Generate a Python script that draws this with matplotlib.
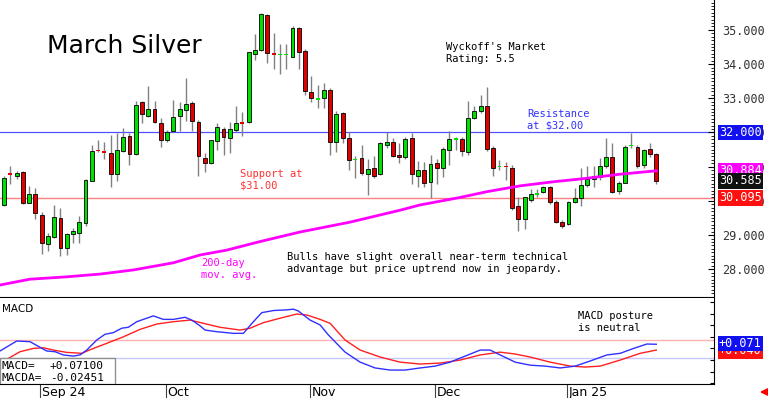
import numpy as np
import matplotlib.pyplot as plt
from matplotlib.ticker import MultipleLocator
from matplotlib.transforms import blended_transform_factory
from matplotlib.patches import Rectangle

# daily candles, March silver (one per trading day, late Aug 2024 -> mid Jan 2025)
opens = [29.88, 30.79, 30.74, 30.84, 29.95, 30.20, 29.59, 28.75, 28.94, 29.50,
         28.62, 29.04, 29.06, 29.36, 30.59, 31.48, 31.45, 31.40, 30.79, 31.47,
         31.90, 31.37, 32.88, 32.48, 32.68, 32.28, 31.78, 32.05, 32.49, 32.65,
         32.87, 32.32, 31.25, 31.10, 31.76, 32.09, 31.83, 32.07, 32.29, 32.30,
         34.29, 34.41, 35.43, 34.31, 34.26, 34.27, 34.22, 35.05, 34.39, 33.19,
         32.96, 33.02, 33.25, 31.71, 32.56, 31.83, 31.19, 31.24, 30.79, 30.95,
         30.79, 31.63, 31.71, 31.35, 31.29, 31.83, 30.74, 30.90, 30.54, 31.10,
         30.97, 31.49, 31.79, 31.80, 31.44, 32.43, 32.63, 32.77, 31.54, 30.99,
         31.01, 30.97, 29.86, 29.46, 30.03, 30.17, 30.27, 30.42, 29.96, 29.37,
         29.32, 29.98, 30.09, 30.46, 30.63, 30.71, 31.02, 31.29, 30.29, 30.53,
         31.60, 31.58, 31.05, 31.52, 31.37]
highs = [30.73, 31.02, 30.87, 30.86, 30.44, 30.38, 29.68, 29.06, 29.88, 29.79,
         29.06, 29.21, 29.57, 30.64, 31.63, 31.78, 31.72, 31.93, 31.99, 32.13,
         31.99, 32.92, 32.93, 33.37, 32.93, 32.43, 32.07, 32.95, 32.88, 33.60,
         32.92, 32.37, 31.39, 31.78, 32.27, 32.15, 32.32, 32.77, 32.61, 34.36,
         34.87, 35.49, 35.46, 34.90, 34.59, 34.59, 35.12, 35.09, 34.43, 33.66,
         33.39, 33.46, 33.29, 32.63, 32.59, 32.01, 31.32, 31.63, 31.22, 31.32,
         31.73, 32.01, 31.83, 31.68, 31.86, 31.98, 31.17, 31.15, 31.34, 31.22,
         31.58, 32.05, 31.88, 31.86, 32.93, 32.77, 33.10, 33.32, 31.61, 31.20,
         31.15, 31.05, 30.10, 30.12, 30.35, 30.35, 30.44, 30.44, 30.03, 29.44,
         30.01, 30.37, 30.95, 31.02, 31.02, 31.25, 31.83, 31.68, 30.58, 31.63,
         31.98, 31.62, 31.51, 31.68, 31.39]
lows = [29.85, 30.49, 30.64, 29.92, 29.94, 29.47, 28.45, 28.53, 28.92, 28.39,
        28.42, 28.77, 28.78, 29.27, 30.58, 31.43, 31.22, 30.41, 30.59, 31.44,
        31.05, 31.34, 32.29, 32.46, 32.27, 31.58, 31.73, 32.02, 32.05, 32.34,
        32.05, 30.74, 30.84, 31.08, 31.49, 31.34, 31.39, 32.02, 31.90, 32.29,
        34.12, 34.39, 34.04, 33.86, 33.70, 33.86, 34.20, 33.86, 33.10, 32.90,
        32.72, 32.71, 31.34, 31.42, 31.68, 30.90, 30.68, 30.76, 30.17, 30.66,
        30.76, 31.54, 31.27, 31.12, 31.22, 30.49, 30.41, 30.41, 30.09, 30.49,
        30.71, 31.05, 31.49, 31.31, 31.34, 32.39, 32.56, 31.47, 30.74, 30.90,
        30.61, 29.73, 29.13, 29.18, 29.98, 30.12, 30.22, 29.91, 29.34, 29.22,
        29.30, 29.93, 29.85, 30.41, 30.41, 30.61, 30.95, 30.24, 30.20, 30.51,
        31.54, 30.96, 30.95, 31.29, 30.49]
closes = [30.66, 30.77, 30.82, 29.95, 30.20, 29.65, 28.77, 28.98, 29.53, 28.63,
          29.03, 29.11, 29.38, 30.61, 31.46, 31.45, 31.41, 30.78, 31.49, 31.87,
          31.37, 32.80, 32.54, 32.68, 32.30, 31.78, 32.02, 32.46, 32.68, 32.83,
          32.34, 31.32, 31.12, 31.77, 32.15, 31.88, 32.09, 32.27, 32.26, 34.35,
          34.41, 35.46, 34.32, 34.28, 34.30, 34.29, 35.05, 34.35, 33.21, 33.00,
          32.98, 33.23, 31.73, 32.53, 31.83, 31.19, 31.21, 30.82, 30.93, 30.73,
          31.68, 31.71, 31.32, 31.27, 31.81, 30.78, 30.90, 30.53, 31.08, 30.95,
          31.51, 31.80, 31.81, 31.47, 32.41, 32.63, 32.77, 31.52, 30.97, 31.01,
          30.99, 29.78, 29.46, 30.10, 30.20, 30.22, 30.40, 29.96, 29.39, 29.27,
          29.98, 30.08, 30.46, 30.64, 30.73, 31.02, 31.29, 30.27, 30.53, 31.58,
          31.61, 31.02, 31.49, 31.37, 30.59]

# 200-day moving average (read at a few day positions)
ma_x = [-0.64, 4.1, 10.0, 15.3, 20.6, 27.0, 31.3, 35.5, 40.8, 47.2,
        55.2, 63.2, 66.3, 72.7, 77.0, 82.3, 87.6, 92.9, 98.2, 104]
ma_val = [27.54, 27.71, 27.78, 27.86, 27.98, 28.19, 28.42, 28.56, 28.81, 29.09,
          29.38, 29.73, 29.88, 30.10, 30.27, 30.44, 30.56, 30.66, 30.78, 30.88]

# MACD (blue) and its average (red)
macd_x = [-0.64, 2.03, 4.15, 5.74, 6.81, 8.13, 9.46, 11.05, 12.12, 13.19,
          14.78, 16.11, 17.43, 18.77, 19.82, 21.16, 22.22, 23.81, 25.41, 27.0,
          28.87, 29.94, 31.26, 32.06, 33.92, 36.57, 38.17, 39.76, 41.1, 42.95,
          45.09, 46.14, 46.94, 47.74, 48.8, 50.4, 51.72, 54.39, 56.78, 59.17,
          61.56, 63.96, 66.35, 68.74, 71.13, 73.52, 75.92, 77.51, 79.11, 81.5,
          83.89, 86.28, 88.68, 91.07, 93.46, 96.12, 98.25, 100.37, 102.5, 104]
macd_val = [0.039, 0.082, 0.079, 0.055, 0.039, 0.036, 0.022, 0.017, 0.022, 0.043,
            0.086, 0.111, 0.118, 0.137, 0.141, 0.165, 0.175, 0.190, 0.175, 0.175,
            0.184, 0.172, 0.147, 0.129, 0.122, 0.115, 0.115, 0.165, 0.204, 0.213,
            0.216, 0.219, 0.211, 0.194, 0.172, 0.151, 0.108, 0.034, -0.009, -0.034,
            -0.043, -0.043, -0.034, -0.026, -0.009, 0.017, 0.043, 0.043, 0.022, -0.009,
            -0.022, -0.026, -0.034, -0.026, -0.004, 0.022, 0.029, 0.050, 0.069, 0.068]
sig_x = [-0.64, 0.69, 2.55, 4.67, 6.27, 7.86, 10.0, 12.39, 14.24, 16.38,
         19.03, 21.69, 24.35, 27.0, 29.67, 31.79, 34.45, 37.64, 39.23, 41.36,
         44.02, 46.68, 48.28, 50.4, 51.99, 54.39, 56.78, 59.97, 63.16, 66.35,
         69.54, 72.73, 75.92, 79.11, 81.5, 83.89, 87.08, 90.27, 92.66, 95.06,
         98.25, 101.44, 104]
sig_val = [-0.009, 0.007, 0.036, 0.050, 0.053, 0.043, 0.033, 0.029, 0.050, 0.072,
           0.100, 0.132, 0.155, 0.165, 0.172, 0.158, 0.141, 0.129, 0.137, 0.161,
           0.180, 0.198, 0.194, 0.175, 0.158, 0.086, 0.043, 0.013, -0.009, -0.017,
           -0.013, 0.000, 0.022, 0.034, 0.026, 0.013, -0.009, -0.026, -0.030, -0.026,
           0.000, 0.029, 0.043]

month_start = [6, 26, 49, 69, 90]
month_lbl = ['Sep 24', 'Oct', 'Nov', 'Dec', 'Jan 25']
price_ticks = [28, 29, 30, 31, 32, 33, 34, 35]

resistance = 32.0
support = 30.095
ma_last = 30.884
last_close = 30.585
macd_last = 0.071
sig_last = 0.040

GREEN = '#00e000'
RED = '#e00000'
MONO = 'DejaVu Sans Mono'

W, H = 768, 398
fig = plt.figure(figsize=(W / 100, H / 100), dpi=100)
ax = fig.add_axes([0, 1 - 297 / H, 714 / W, 297 / H])
ax2 = fig.add_axes([0, 1 - 384 / H, 714 / W, 86 / H])

x = np.arange(len(opens))
o = np.array(opens)
c = np.array(closes)

# ---- price panel ----
ax.vlines(x, lows, highs, color='#808080', lw=1, zorder=2)
body_lo = np.minimum(o, c)
body_h = np.maximum(np.abs(c - o), 0.035)
cols = [GREEN if cc >= oo else RED for oo, cc in zip(o, c)]
edge_w = [0.0 if abs(cc - oo) < 0.05 else 0.6 for oo, cc in zip(o, c)]
ax.bar(x, body_h, bottom=body_lo, width=0.62, color=cols,
       edgecolor='black', linewidth=edge_w, zorder=3)

ax.axhline(resistance, color='#5050ff', lw=0.9, zorder=1)
ax.axhline(support, color='#ff8080', lw=1.0, zorder=1)
ax.plot(ma_x, ma_val, color='#ff00ff', lw=2, zorder=4)

ax.set_xlim(-0.64, 113.2)
ax.set_ylim(27.19, 35.874)
ax.set_xticks([])
ax.yaxis.tick_right()
ax.set_yticks(price_ticks)
ax.set_yticklabels([f'{p:.3f}' for p in price_ticks], family=MONO,
                   fontsize=8.5, color='#333333')
ax.yaxis.set_minor_locator(MultipleLocator(0.1))
ax.tick_params(axis='y', which='major', direction='in', length=4, pad=6)
ax.tick_params(axis='y', which='minor', direction='in', length=2)
for s in ['left', 'top']:
    ax.spines[s].set_visible(False)

# coloured value boxes on the right axis
tr = blended_transform_factory(ax.transAxes, ax.transData)
for val, bg in [(resistance, '#1010f0'), (ma_last, '#ff00ff'),
                (last_close, '#101010'), (support, '#ff1010')]:
    ax.text(1.007, val, f'{val:.3f}', transform=tr, va='center', ha='left',
            family=MONO, fontsize=8.5, color='white', zorder=10, clip_on=False,
            bbox=dict(boxstyle='square,pad=0.12', fc=bg, ec='none'))

# text notes
def put(px, py, s, **kw):
    fig.text(px / W, 1 - py / H, s, **kw)

put(47, 53, 'March Silver', fontsize=18, va='baseline', color='black')
put(446, 42, "Wyckoff's Market\nRating: 5.5", family=MONO, fontsize=7.5, va='top')
put(527, 109, 'Resistance\nat $32.00', family=MONO, fontsize=7.5, va='top',
    color='#3030ff')
put(240, 169, 'Support at\n$31.00', family=MONO, fontsize=7.5, va='top',
    color='#ff3030')
put(201, 258, '200-day\nmov. avg.', family=MONO, fontsize=7.5, va='top',
    color='#ff00ff')
put(287, 252, 'Bulls have slight overall near-term technical\n'
    'advantage but price uptrend now in jeopardy.', family=MONO,
    fontsize=7.5, va='top')

# ---- MACD panel ----
ax2.axhline(0.086, color='#ffb0b0', lw=1, zorder=1)
ax2.axhline(0.011, color='#c8c8ff', lw=1, zorder=1)
ax2.plot(sig_x, sig_val, color='#ff2020', lw=1, zorder=3)
ax2.plot(macd_x, macd_val, color='#3030ff', lw=1, zorder=3)
ax2.set_xlim(-0.64, 113.2)
ax2.set_ylim(-0.103, 0.267)
ax2.yaxis.tick_right()
ax2.set_yticks(np.arange(-0.1, 0.27, 0.05))
ax2.set_yticklabels([])
ax2.tick_params(axis='y', direction='in', length=3)
for s in ['left', 'top']:
    ax2.spines[s].set_visible(False)

tr2 = blended_transform_factory(ax2.transAxes, ax2.transData)
for val, bg in [(sig_last, '#ff1010'), (macd_last, '#1010f0')]:
    ax2.text(1.007, val, f'{val:+.3f}', transform=tr2, va='center', ha='left',
             family=MONO, fontsize=8.5, color='white', zorder=10, clip_on=False,
             bbox=dict(boxstyle='square,pad=0.12', fc=bg, ec='none'))

ax2.text(0.003, 0.93, 'MACD', transform=ax2.transAxes, fontsize=7.5, va='top')
put(578, 311, 'MACD posture\nis neutral', family=MONO, fontsize=7.5, va='top')

# value box bottom-left
ax2.add_patch(Rectangle((0, 0), 115 / 714, 26 / 86, transform=ax2.transAxes,
                        fc='white', ec='#909090', lw=1, zorder=5))
ax2.text(0.002, 0.21, 'MACD=', transform=ax2.transAxes, family=MONO,
         fontsize=8, va='center', zorder=6)
ax2.text(0.002, 0.07, 'MACDA=', transform=ax2.transAxes, family=MONO,
         fontsize=8, va='center', zorder=6)
ax2.text(50 / 714, 0.21, f'{macd_last:+.5f}', transform=ax2.transAxes,
         family=MONO, fontsize=8, va='center', zorder=6)
ax2.text(50 / 714, 0.07, '-0.02451', transform=ax2.transAxes,
         family=MONO, fontsize=8, va='center', zorder=6)

# month separators and labels
ax2.set_xticks(np.array(month_start) - 0.25)
ax2.set_xticklabels([])
ax2.tick_params(axis='x', direction='out', length=10, color='#404040')
trx = blended_transform_factory(ax2.transData, ax2.transAxes)
for m, lbl in zip(month_start, month_lbl):
    ax2.text(m + 0.05, -0.095, lbl, transform=trx, fontsize=9, va='center',
             ha='left', clip_on=False)

# small red arrow, bottom right
ax2.annotate('', xy=(757 / W, 1 - 392 / H), xytext=(767 / W, 1 - 392 / H),
             xycoords='figure fraction', textcoords='figure fraction',
             arrowprops=dict(arrowstyle='-|>', color='red', lw=1.5))

fig.savefig('out.png', dpi=100)
